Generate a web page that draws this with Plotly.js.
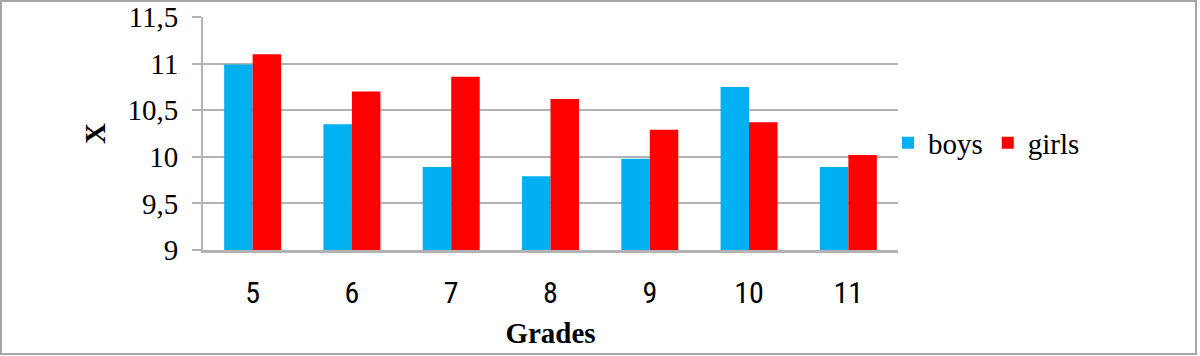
<!DOCTYPE html>
<html>
<head>
<meta charset="utf-8">
<script src="https://cdn.plot.ly/plotly-3.0.1.min.js"></script>
<style>
  html, body { margin: 0; padding: 0; background: #ffffff; }
  #chart { width: 1200px; height: 356px; }
</style>
</head>
<body>
<div id="chart"></div>
<script>
const grades = ["5", "6", "7", "8", "9", "10", "11"];
const boys   = [10.99, 10.35, 9.89, 9.79, 9.98, 10.75, 9.89];
const girls  = [11.10, 10.70, 10.86, 10.62, 10.29, 10.37, 10.02];
const seriesNames = ["boys", "girls"];
const yTickVals = [9, 9.5, 10, 10.5, 11, 11.5];

const serif = "Liberation Serif, Times New Roman, serif";
const narrow = "Roboto Condensed, DejaVu Sans Condensed, Liberation Sans, sans-serif";
const gridCol = "#b3b3b3";

const traces = [
  { type: "bar", name: seriesNames[0], x: grades, y: boys, marker: { color: "#00b0f0" } },
  { type: "bar", name: seriesNames[1], x: grades, y: girls, marker: { color: "#ff0000" } }
];

const L = 203, R = 898, T = 17, B = 250;
const pw = R - L, ph = B - T;
const px = v => (v - L) / pw;
const py = v => (B - v) / ph;

const layout = {
  width: 1200, height: 356,
  margin: { l: L, r: 1200 - R, t: T, b: 356 - B, pad: 0 },
  paper_bgcolor: "#ffffff", plot_bgcolor: "#ffffff",
  separators: ", ",
  font: { family: serif, color: "#000000" },
  barmode: "group", bargap: 0.426, bargroupgap: 0,
  showlegend: true,
  legend: {
    orientation: "h", x: px(888), xanchor: "left", y: py(143), yanchor: "middle",
    font: { family: serif, size: 29, color: "#000000" },
    itemwidth: 30, tracegroupgap: 0, bgcolor: "rgba(0,0,0,0)"
  },
  xaxis: {
    type: "category",
    showgrid: false, showline: true, linecolor: gridCol, linewidth: 3,
    ticks: "", ticklabelstandoff: 14,
    tickfont: { family: narrow, size: 30, color: "#000000" },
    title: { text: "<b>Grades</b>", font: { family: serif, size: 29, color: "#000000" }, standoff: 14 }
  },
  yaxis: {
    range: [9, 11.5], tickvals: yTickVals,
    showgrid: true, gridcolor: gridCol, gridwidth: 2,
    showline: true, linecolor: gridCol, linewidth: 2,
    ticks: "outside", ticklen: 9, tickcolor: gridCol, tickwidth: 2,
    ticklabelstandoff: 8,
    zeroline: false,
    tickfont: { family: serif, size: 29, color: "#000000" },
    title: { text: "<b>X</b>", font: { family: serif, size: 29, color: "#000000" }, standoff: 13 }
  },
  shapes: [{
    type: "rect", xref: "paper", yref: "paper",
    x0: px(1), x1: px(1196), y0: py(354), y1: py(1),
    line: { color: "#a6a6a6", width: 2 }, fillcolor: "rgba(0,0,0,0)", layer: "below"
  }]
};

Plotly.newPlot("chart", traces, layout, { displayModeBar: false, staticPlot: true });
</script>
</body>
</html>
